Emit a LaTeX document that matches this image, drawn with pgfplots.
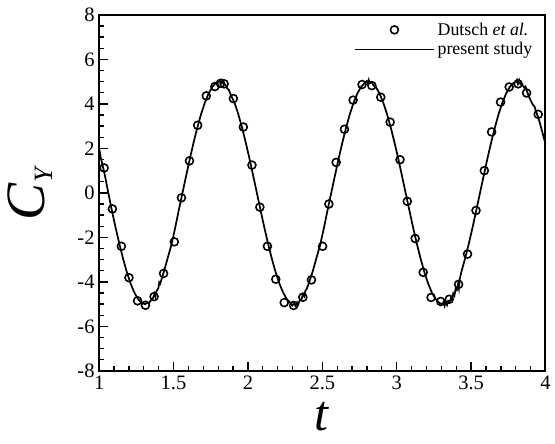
\documentclass[border=0pt]{standalone}
\usepackage{pgfplots}
\pgfplotsset{compat=1.18}
\usepackage{fontspec}
\setmainfont{Liberation Serif}
\pgfplotsset{
 circleleg/.style={legend image code/.code={\draw[mark repeat=2,mark phase=2,##1] plot coordinates {(0pt,0pt)(30pt,0pt)(60pt,0pt)};}},
 lineleg/.style={legend image code/.code={\draw[##1] (0pt,0pt) -- (60pt,0pt);}},
}
\begin{document}
\begin{tikzpicture}
\begin{axis}[
 scale only axis, width=337.5pt, height=269.25pt,
 xmin=1, xmax=4, ymin=-8, ymax=8,
 xtick={1,1.5,2,2.5,3,3.5,4}, ytick={-8,-6,-4,-2,0,2,4,6,8},
 minor x tick num=4, minor y tick num=3,
 xtick pos=bottom, ytick pos=left, tick align=inside,
 major tick length=7pt, minor tick length=4pt,
 axis line style={line width=1.5pt},
 every tick/.style={line width=1pt, black},
 /pgf/number format/assume math mode=true,
 tick label style={font=\fontsize{15.5}{18}\selectfont},
 xlabel={\fontsize{38}{38}\selectfont\textit{t}},
 xlabel style={at={(rel axis cs:0.5,-0.168)}, anchor=base, inner sep=0pt},
 ylabel={\fontsize{42}{42}\selectfont\textit{C}\raisebox{-6pt}{\fontsize{20}{20}\selectfont\textit{Y}}},
 ylabel style={at={(rel axis cs:-0.155,0.5)}, anchor=center, inner sep=0pt},
 legend style={draw=none, fill=none, at={(0.98,0.99)}, anchor=north east, font=\fontsize{13.5}{16}\selectfont, inner sep=1pt},
 legend cell align=left,
 clip=false,
]
\addplot[only marks, mark=o, mark size=3pt, mark options={line width=1.2pt, black}, circleleg]
 coordinates {
 (1.033,1.12) (1.089,-0.72) (1.149,-2.40) (1.200,-3.81) (1.258,-4.85) (1.311,-5.05)
 (1.369,-4.66) (1.433,-3.62) (1.505,-2.20) (1.553,-0.22) (1.607,1.44) (1.662,3.04)
 (1.720,4.36) (1.778,4.78) (1.815,4.92) (1.840,4.90) (1.902,4.24) (1.969,2.96)
 (2.027,1.25) (2.080,-0.64) (2.131,-2.40) (2.187,-3.88) (2.244,-4.93) (2.307,-5.06)
 (2.369,-4.69) (2.427,-3.91) (2.502,-2.40) (2.544,-0.50) (2.593,1.37) (2.649,2.86)
 (2.707,4.17) (2.767,4.87) (2.833,4.82) (2.893,4.30) (2.956,3.18) (3.022,1.49)
 (3.071,-0.38) (3.124,-2.05) (3.178,-3.57) (3.231,-4.70) (3.296,-4.88) (3.353,-4.78)
 (3.416,-4.11) (3.476,-2.75) (3.533,-0.79) (3.589,1.00) (3.638,2.74) (3.698,4.08)
 (3.756,4.76) (3.816,4.90) (3.873,4.49) (3.951,3.53)
 };
\addlegendentry{Dutsch \textit{et al.}}
\addplot[black, line width=1.3pt, mark=none, lineleg]
 coordinates {
 (1.000,2.00) (1.010,1.60) (1.035,0.90) (1.060,0.05) (1.085,-0.78) (1.110,-1.55)
 (1.135,-2.27) (1.160,-2.94) (1.185,-3.54) (1.210,-4.05) (1.235,-4.46) (1.260,-4.76)
 (1.285,-4.94) (1.310,-5.00) (1.322,-4.93) (1.335,-4.96) (1.348,-4.82) (1.360,-4.76)
 (1.372,-4.52) (1.378,-4.66) (1.385,-4.42) (1.398,-4.28) (1.404,-4.02) (1.410,-4.08)
 (1.435,-3.54) (1.460,-2.94) (1.485,-2.35) (1.510,-1.60) (1.535,-0.78) (1.560,0.00)
 (1.585,0.78) (1.610,1.55) (1.635,2.27) (1.660,2.94) (1.685,3.54) (1.710,4.05)
 (1.735,4.46) (1.760,4.76) (1.785,4.94) (1.800,4.98) (1.810,5.05) (1.818,4.92)
 (1.826,5.06) (1.835,4.90) (1.848,4.86) (1.860,4.70) (1.872,4.62) (1.885,4.40)
 (1.910,4.05) (1.935,3.54) (1.960,2.94) (1.985,2.27) (2.010,1.55) (2.035,0.78)
 (2.060,0.00) (2.085,-0.78) (2.110,-1.55) (2.135,-2.27) (2.160,-2.94) (2.185,-3.54)
 (2.210,-4.05) (2.235,-4.46) (2.260,-4.76) (2.285,-4.94) (2.298,-5.06) (2.310,-4.96)
 (2.320,-5.08) (2.330,-4.92) (2.338,-5.02) (2.348,-4.82) (2.360,-4.78) (2.370,-4.55)
 (2.378,-4.64) (2.386,-4.40) (2.396,-4.30) (2.410,-4.05) (2.435,-3.54) (2.460,-2.94)
 (2.485,-2.35) (2.510,-1.60) (2.535,-0.78) (2.560,0.00) (2.585,0.78) (2.610,1.55)
 (2.635,2.27) (2.660,2.94) (2.685,3.54) (2.710,4.05) (2.735,4.46) (2.760,4.76)
 (2.785,4.94) (2.798,5.02) (2.806,4.92) (2.812,5.08) (2.820,4.94) (2.832,4.98)
 (2.845,4.82) (2.860,4.76) (2.885,4.46) (2.910,4.05) (2.935,3.54) (2.960,2.94)
 (2.985,2.27) (3.010,1.55) (3.035,0.78) (3.060,0.00) (3.085,-0.78) (3.110,-1.55)
 (3.135,-2.27) (3.160,-2.94) (3.185,-3.54) (3.210,-4.05) (3.235,-4.46) (3.260,-4.76)
 (3.285,-4.94) (3.305,-5.00) (3.315,-4.90) (3.322,-5.08) (3.330,-4.92) (3.338,-5.04)
 (3.346,-4.86) (3.355,-4.92) (3.365,-4.72) (3.372,-4.80) (3.380,-4.52) (3.388,-4.62)
 (3.396,-4.30) (3.404,-4.36) (3.412,-4.10) (3.418,-4.30) (3.424,-3.86) (3.435,-3.54)
 (3.460,-2.94) (3.485,-2.27) (3.510,-1.55) (3.535,-0.78) (3.560,0.00) (3.585,0.78)
 (3.610,1.55) (3.635,2.27) (3.660,2.94) (3.685,3.54) (3.710,4.05) (3.735,4.46)
 (3.760,4.76) (3.785,4.94) (3.800,4.98) (3.808,5.08) (3.815,4.90) (3.824,5.06)
 (3.832,4.88) (3.845,4.86) (3.858,4.72) (3.866,4.78) (3.878,4.52) (3.890,4.30)
 (3.905,4.10) (3.915,3.96) (3.925,3.90) (3.940,3.60) (3.960,3.20) (3.980,2.70)
 (4.000,2.20)
 };
\addlegendentry{present study}
\path ([shift={(-75pt,-54.75pt)}]rel axis cs:0,0) rectangle ([shift={(3.75pt,11.25pt)}]rel axis cs:1,1);
\end{axis}
\end{tikzpicture}
\end{document}
